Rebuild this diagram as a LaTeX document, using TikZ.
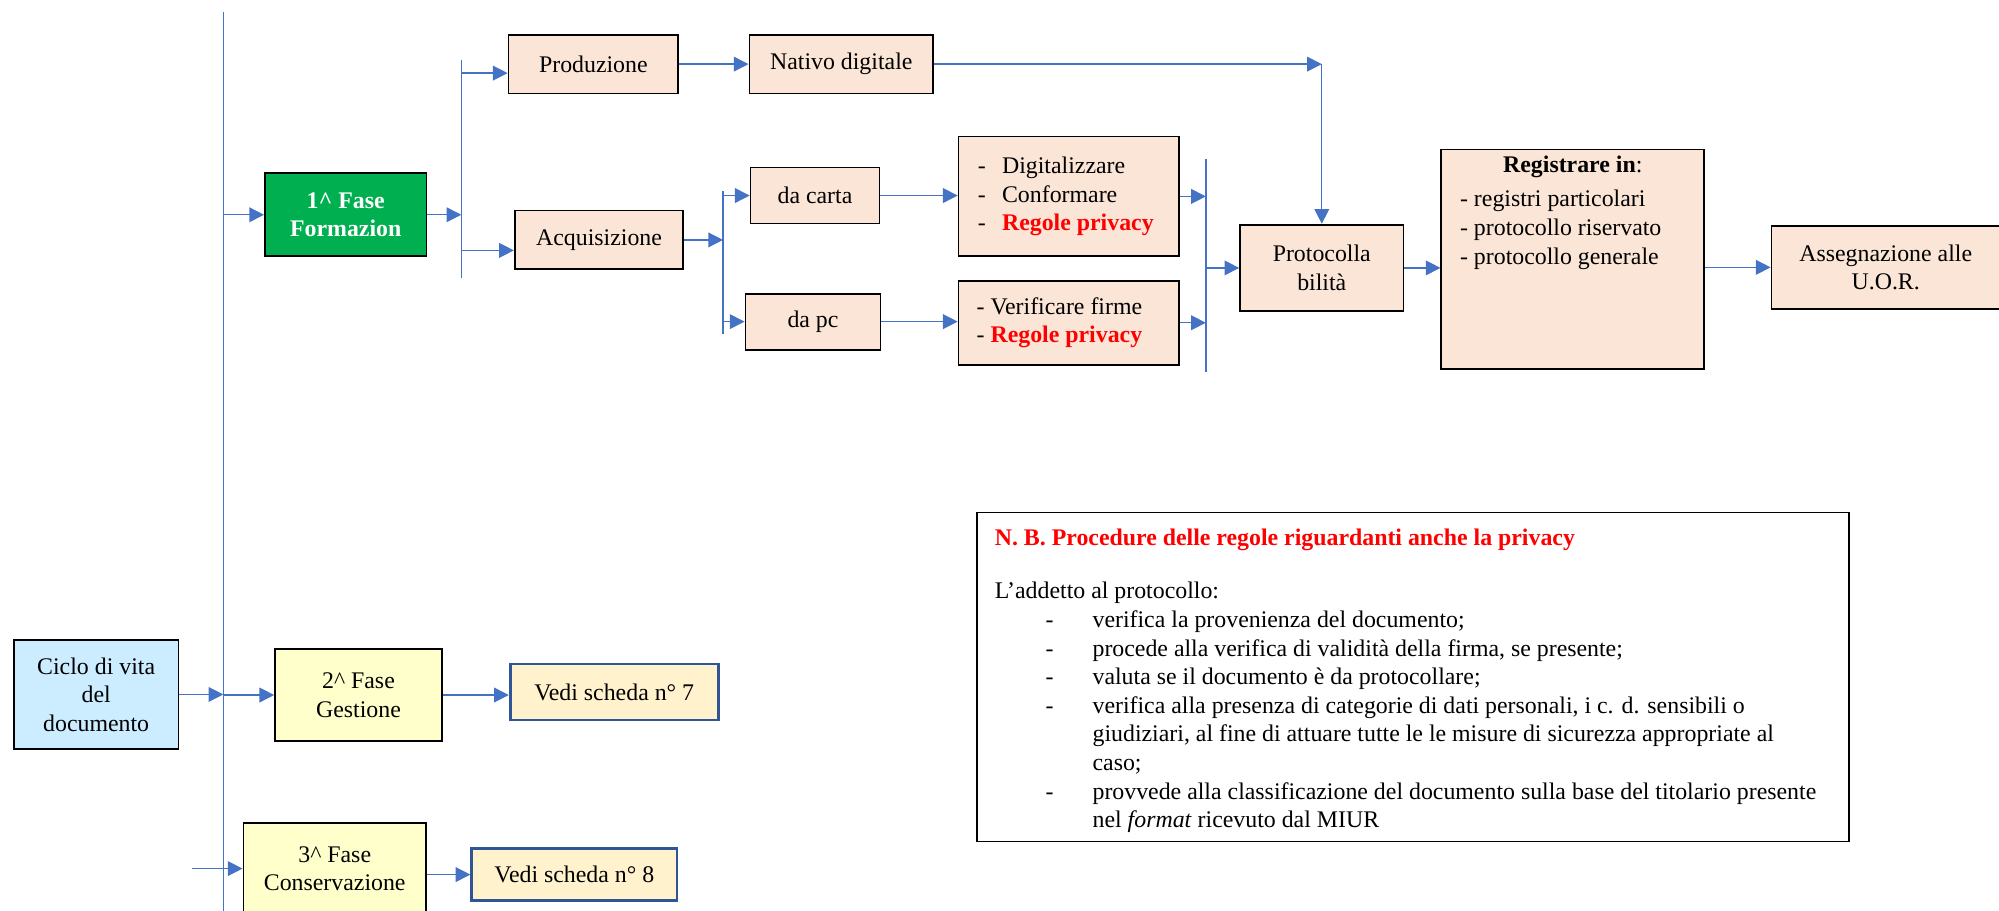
\documentclass[tikz,border=0pt]{standalone}
\usepackage{fontspec}
\setmainfont{Liberation Serif}
\usepackage{tikz}
\usetikzlibrary{arrows.meta}

\definecolor{LinkBlue}{HTML}{4472C4}
\definecolor{Peach}{HTML}{FBE5D6}
\definecolor{PhaseGreen}{HTML}{00B050}
\definecolor{CycleBlue}{HTML}{CCECFF}
\definecolor{PhaseYellow}{HTML}{FFFFCC}
\definecolor{NoteCream}{HTML}{FFF2CC}
\definecolor{NoteBlue}{HTML}{2F5597}

\newcommand{\privacy}{\mbox{\textcolor{red}{\textbf{Regole privacy}}}}
\newcommand{\nbdash}{\hspace*{0.9cm}\makebox[0.83cm][l]{-}}
\newcommand{\nbindent}{\hspace*{1.73cm}}

\begin{document}
\begin{tikzpicture}[
  font=\fontsize{12}{14.4}\selectfont,
  box/.style={rectangle, draw=black, line width=0.9pt, fill=Peach, anchor=south west, align=center, inner sep=2pt},
  vedibox/.style={rectangle, draw=NoteBlue, line width=1.4pt, fill=NoteCream, anchor=south west, align=center, inner sep=2pt},
  bar/.style={LinkBlue, line width=0.7pt},
  link/.style={LinkBlue, line width=0.7pt, -{Triangle[length=0.26cm, width=0.26cm]}}
]

\useasboundingbox (0,0) rectangle (35.36,16.10);

% trunk and branch lines
\coordinate (mtop) at (3.95,15.88);
\coordinate (mbot) at (3.95,-0.10);
\coordinate (b1top) at (8.16,15.04);
\coordinate (b1bot) at (8.16,11.19);
\coordinate (b2top) at (12.79,12.72);
\coordinate (b2bot) at (12.79,10.19);
\coordinate (b3top) at (21.33,13.28);
\coordinate (b3bot) at (21.33,9.52);

\draw[bar] (mtop) -- (mbot);
\draw[bar] (b1top) -- (b1bot);
\draw[bar] (b2top) -- (b2bot);
\draw[bar] (b3top) -- (b3bot);

\node at (0.23,2.84) [box, fill=CycleBlue, minimum width=2.91cm, minimum height=1.92cm] (ciclo)
		{Ciclo di vita\\ del\\ documento};

\node at (4.67,11.55) [box, fill=PhaseGreen, text=white, minimum width=2.86cm, minimum height=1.47cm] (fase1)
		{\textbf{1\textasciicircum{} Fase}\\ \textbf{Formazion}};

\node at (4.85,2.98) [box, fill=PhaseYellow, minimum width=2.95cm, minimum height=1.62cm] (fase2)
		{2\textasciicircum{} Fase\\ Gestione};

\node at (4.29,-0.09) [box, fill=PhaseYellow, minimum width=3.23cm, minimum height=1.62cm] (fase3)
		{3\textasciicircum{} Fase\\ Conservazione};

\node at (9.00,3.34) [vedibox, minimum width=3.68cm, minimum height=0.99cm] (vedi7) {Vedi scheda n° 7};
\node at (8.32,0.14) [vedibox, minimum width=3.63cm, minimum height=0.93cm] (vedi8) {Vedi scheda n° 8};

\node at (8.98,14.43) [box, minimum width=3.00cm, minimum height=1.04cm] (prod) {Produzione};
\node at (13.24,14.43) [box, minimum width=3.25cm, minimum height=1.04cm] (nativo) {Nativo digitale};
\node at (9.09,11.32) [box, minimum width=2.98cm, minimum height=1.04cm] (acq) {Acquisizione};

\node at (13.26,12.13) [box, minimum width=2.28cm, minimum height=0.99cm] (carta) {da carta};
\node at (13.17,9.90) [box, minimum width=2.39cm, minimum height=0.99cm] (pc) {da pc};

\node at (16.94,11.55) [box, minimum width=3.90cm, minimum height=2.12cm, align=flush left, text width=3.22cm] (digit)
		{\makebox[0.43cm][l]{-}Digitalizzare\\ \makebox[0.43cm][l]{-}Conformare\\ \makebox[0.43cm][l]{-}\privacy};

\node at (16.94,9.63) [box, minimum width=3.90cm, minimum height=1.49cm, align=flush left, text width=3.26cm] (verif)
		{- Verificare firme\\ - \privacy};

\node at (21.92,10.58) [box, minimum width=2.89cm, minimum height=1.53cm] (proto) {Protocolla\\ bilità};

\node at (25.48,9.56) [box, minimum width=4.65cm, minimum height=3.88cm] (reg) {};
\node[below, inner sep=0pt] at ([yshift=-0.12cm]reg.north) (regtitle) {\textbf{Registrare in}:};
\node[below right, inner sep=0pt, align=left] at ([xshift=0.34cm, yshift=-0.73cm]reg.north west) (reglist)
		{- registri particolari\\ - protocollo riservato\\ - protocollo generale};

\node at (31.32,10.62) [box, minimum width=4.04cm, minimum height=1.47cm] (asse) {Assegnazione alle\\ U.O.R.};

% note box
\node at (17.27,1.20) [box, fill=white, minimum width=15.42cm, minimum height=5.82cm] (nb) {};
\node[below right, inner sep=0pt, align=left] at ([xshift=0.32cm, yshift=-0.30cm]nb.north west) (nbtext)
		{\textcolor{red}{\textbf{N. B. Procedure delle regole riguardanti anche la privacy}}\\[12.5pt]
		L’addetto al protocollo:\\
		\nbdash verifica la provenienza del documento;\\
		\nbdash procede alla verifica di validità della firma, se presente;\\
		\nbdash valuta se il documento è da protocollare;\\
		\nbdash verifica alla presenza di categorie di dati personali, i c. d. sensibili o\\
		\nbindent giudiziari, al fine di attuare tutte le le misure di sicurezza appropriate al\\
		\nbindent caso;\\
		\nbdash provvede alla classificazione del documento sulla base del titolario presente\\
		\nbindent nel \emph{format} ricevuto dal MIUR};

% connectors
\draw[link] (ciclo.east) -- (ciclo.east -| mtop);
\draw[link] (fase1.west -| mtop) -- (fase1.west);
\draw[link] (fase2.west -| mtop) -- (fase2.west);
\draw[link] ([xshift=-0.9cm]fase3.west) -- (fase3.west);
\draw[link] (fase2.east) -- (fase2.east -| vedi7.west);
\draw[link] (fase3.east |- vedi8.west) -- (vedi8.west);

\draw[link] (fase1.east) -- (fase1.east -| b1top);
\draw[link] (prod.186 -| b1top) -- (prod.186);
\draw[link] (acq.187 -| b1top) -- (acq.187);
\draw[link] (prod.east) -- (prod.east -| nativo.west);

\coordinate (nd) at (proto.north |- nativo.east);
\draw[link] (nativo.east) -- (nd);
\draw[link] (nd) -- (proto.north);

\draw[link] (acq.east) -- (acq.east -| b2top);
\draw[link] (carta.west -| b2top) -- (carta.west);
\draw[link] (pc.west -| b2top) -- (pc.west);
\draw[link] (carta.east) -- (carta.east -| digit.west);
\draw[link] (pc.east) -- (pc.east -| verif.west);

\draw[link] (digit.east) -- (digit.east -| b3top);
\draw[link] (verif.east) -- (verif.east -| b3top);
\draw[link] (proto.west -| b3top) -- (proto.west);
\draw[link] (proto.east) -- (proto.east -| reg.west);
\draw[link] (reg.east |- asse.west) -- (asse.west);

\end{tikzpicture}
\end{document}
